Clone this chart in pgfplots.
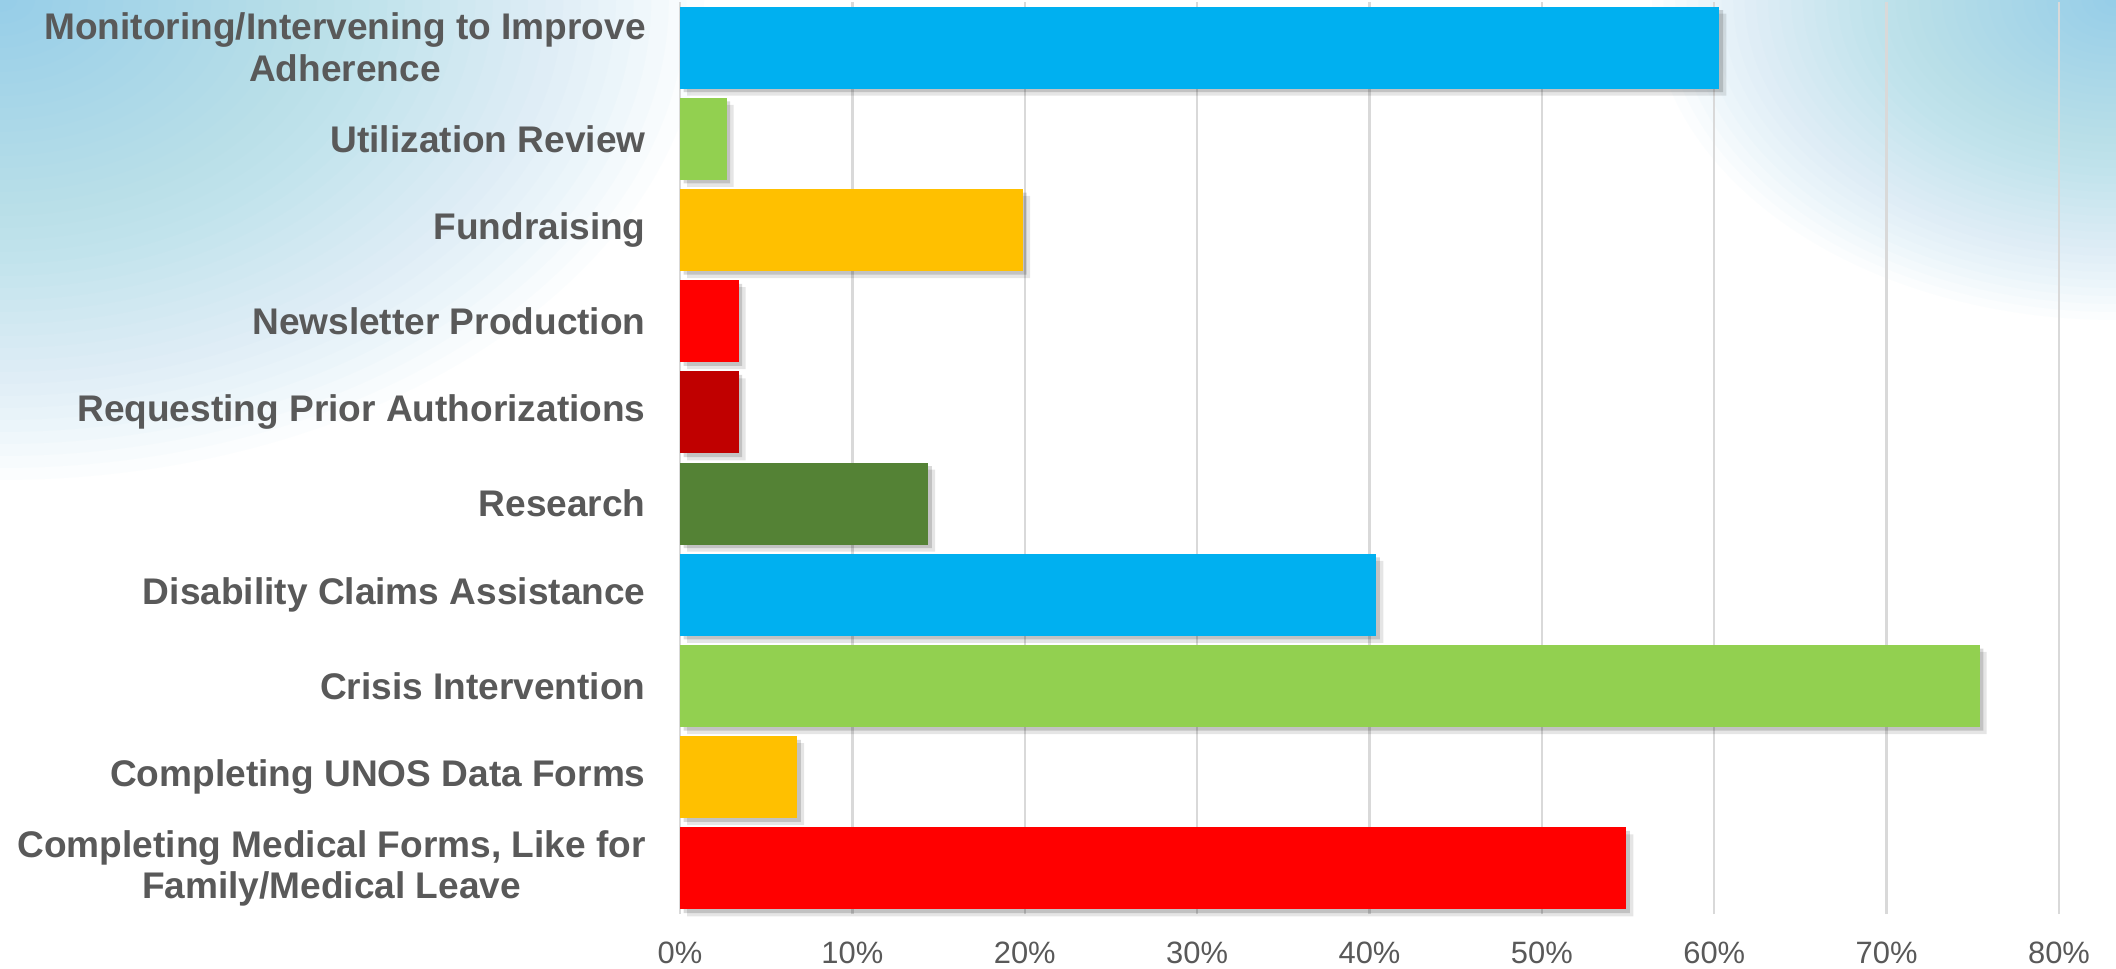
\documentclass[border=0pt]{standalone}
\usepackage{pgfplots}
\pgfplotsset{compat=1.18}
\usepackage{fontspec}
\setmainfont{Liberation Sans}
\definecolor{cblue}{HTML}{00B0F0}
\definecolor{cgreen}{HTML}{92D050}
\definecolor{corange}{HTML}{FFC000}
\definecolor{cred}{HTML}{FF0000}
\definecolor{cdred}{HTML}{C00000}
\definecolor{cdgreen}{HTML}{548235}
\definecolor{lbl}{HTML}{595959}
\definecolor{gridc}{HTML}{D9D9D9}
\definecolor{bgblue}{RGB}{110,195,232}

\begin{document}
\begin{tikzpicture}
\useasboundingbox (0bp,0bp) rectangle (1058bp,484.5bp);
\fill[white] (0bp,0bp) rectangle (1058bp,484.5bp);
\begin{scope}
\clip (0bp,0bp) rectangle (1058bp,484.5bp);
\foreach \s in {1,...,40}{
  \fill[bgblue, fill opacity=0.025] (0bp,484.5bp) ellipse [x radius={\s*8.8bp}, y radius={\s*6bp}];
  \fill[bgblue, fill opacity=0.025] (1058bp,484.5bp) ellipse [x radius={\s*5.8bp}, y radius={\s*4bp}];
}
\end{scope}
\begin{axis}[
  at={(340bp,27.5bp)}, anchor=south west,
  scale only axis, width=689.5bp, height=456bp,
  xmin=0, xmax=80, ymin=-0.5, ymax=9.5,
  xbar, bar width=0.9, bar shift=0pt,
  clip=false,
  xtick={0,10,...,80},
  xticklabels={0\%,10\%,20\%,30\%,40\%,50\%,60\%,70\%,80\%},
  ytick={0,...,9},
  yticklabels={{Completing Medical Forms, Like for\\Family/Medical Leave},
    Completing UNOS Data Forms, Crisis Intervention, Disability Claims Assistance,
    Research, Requesting Prior Authorizations, Newsletter Production, Fundraising,
    Utilization Review, {Monitoring/Intervening to Improve\\Adherence}},
  xmajorgrids, ymajorgrids=false,
  grid style={gridc, line width=1.2bp},
  axis line style={draw=none},
  major tick length=0pt,
  xticklabel style={font=\fontsize{15.5}{18}\selectfont, text=lbl, anchor=base, yshift=-24.5bp},
  yticklabel style={font=\fontsize{18.6}{21}\selectfont\bfseries, text=lbl, align=center, anchor=east, inner sep=0pt, xshift=-17bp},
  every axis plot/.append style={draw=none},
]
% soft shadows
\addplot[fill=black, fill opacity=0.10, xshift=3.5bp, yshift=-3.5bp, forget plot] coordinates {
 (54.9,0) (6.8,1) (75.4,2) (40.4,3) (14.4,4) (3.4,5) (3.4,6) (19.9,7) (2.7,8) (60.3,9)};
\addplot[fill=black, fill opacity=0.15, xshift=1.8bp, yshift=-1.8bp, forget plot] coordinates {
 (54.9,0) (6.8,1) (75.4,2) (40.4,3) (14.4,4) (3.4,5) (3.4,6) (19.9,7) (2.7,8) (60.3,9)};
% bars
\addplot[fill=cred] coordinates {(54.9,0)};
\addplot[fill=corange] coordinates {(6.8,1)};
\addplot[fill=cgreen] coordinates {(75.4,2)};
\addplot[fill=cblue] coordinates {(40.4,3)};
\addplot[fill=cdgreen] coordinates {(14.4,4)};
\addplot[fill=cdred] coordinates {(3.4,5)};
\addplot[fill=cred] coordinates {(3.4,6)};
\addplot[fill=corange] coordinates {(19.9,7)};
\addplot[fill=cgreen] coordinates {(2.7,8)};
\addplot[fill=cblue] coordinates {(60.3,9)};
\end{axis}
\end{tikzpicture}
\end{document}
